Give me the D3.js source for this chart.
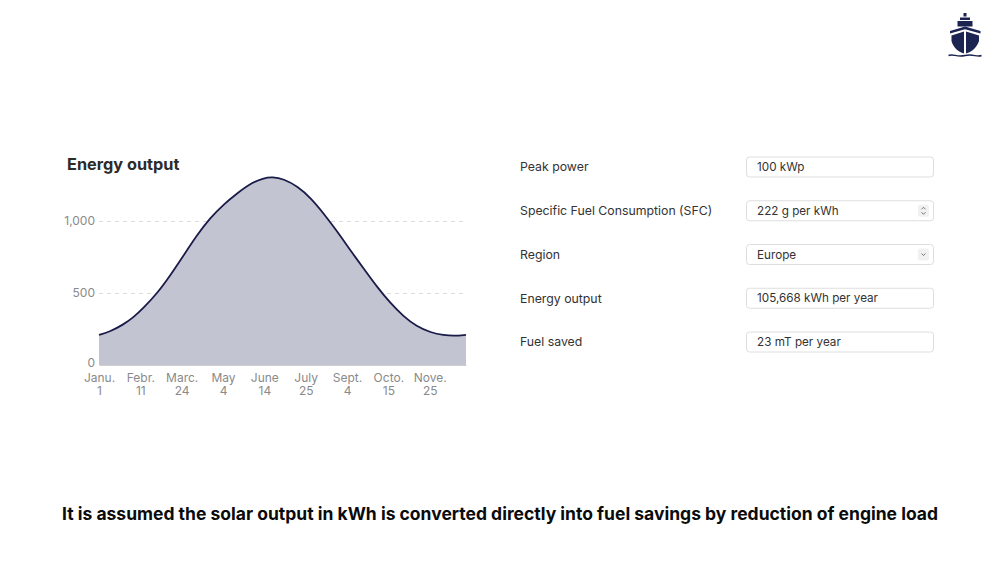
<!DOCTYPE html>
<html>
<head>
<meta charset="utf-8">
<script src="https://cdn.jsdelivr.net/npm/d3@7"></script>
<style>
  html, body { margin: 0; padding: 0; background: #fff; }
  svg { display: block; font-family: Inter, "Open Sans", sans-serif; }
</style>
</head>
<body>
<svg id="chart" width="1000" height="562"></svg>
<script>
// energy output per day (kWh)
var dates = ["2023-01-01","2023-01-12","2023-01-25","2023-02-04","2023-02-14","2023-02-28",
  "2023-03-13","2023-03-26","2023-04-08","2023-04-21","2023-05-05","2023-05-18",
  "2023-05-31","2023-06-13","2023-06-22","2023-07-03","2023-07-17","2023-07-30",
  "2023-08-12","2023-08-25","2023-09-07","2023-09-21","2023-10-04","2023-10-17",
  "2023-10-30","2023-11-12","2023-11-26","2023-12-09","2023-12-19","2023-12-31"];
var energy = [209, 232, 280, 330, 395, 500,
  625, 762, 900, 1020, 1118, 1192,
  1260, 1298, 1306, 1293, 1240, 1160,
  1050, 930, 800, 665, 540, 430,
  338, 268, 225, 207, 201, 209];

var tickDates = ["2023-01-01","2023-02-11","2023-03-24","2023-05-04","2023-06-14",
  "2023-07-25","2023-09-04","2023-10-15","2023-11-25"];
var tickMonths = ["Janu.","Febr.","Marc.","May","June","July","Sept.","Octo.","Nove."];
var tickDays = ["1","11","24","4","14","25","4","15","25"];
var yTicks = [0, 500, 1000];

var fieldLabels = ["Peak power","Specific Fuel Consumption (SFC)","Region","Energy output","Fuel saved"];
var fieldValues = ["100 kWp","222 g per kWh","Europe","105,668 kWh per year","23 mT per year"];
var fieldKinds = ["text","number","select","text","text"];

var footnote = "It is assumed the solar output in kWh is converted directly into fuel savings by reduction of engine load";

var parse = d3.timeParse("%Y-%m-%d");
var svg = d3.select("#chart");

var plot = {left: 99, right: 466, bottom: 365};

var x = d3.scaleTime()
  .domain([parse("2023-01-01"), parse("2023-12-31")])
  .range([plot.left, plot.right]);
var y = d3.scaleLinear()
  .domain([0, 1000])
  .range([plot.bottom, 221]);

var series = dates.map(function(d, i) { return {date: parse(d), value: energy[i]}; });
var curve = d3.curveBasis;

// title
svg.append("text")
  .attr("x", 67).attr("y", 170)
  .attr("font-size", 16.3).attr("font-weight", 700)
  .attr("fill", "#2b2b2b")
  .text("Energy output");

// gridlines (dashed, skip zero)
var grid = svg.append("g")
  .attr("class", "grid")
  .attr("transform", "translate(" + plot.left + ",0)")
  .call(d3.axisLeft(y).tickValues(yTicks.filter(function(v) { return v > 0; }))
    .tickSize(-(plot.right - plot.left)).tickFormat(""));
grid.select(".domain").remove();
grid.selectAll("line")
  .attr("stroke", "#dcdcdc")
  .attr("stroke-dasharray", "4,4");

// area + line
svg.append("path")
  .datum(series)
  .attr("fill", "#c3c4d2")
  .attr("d", d3.area()
    .x(function(d) { return x(d.date); })
    .y0(y(0))
    .y1(function(d) { return y(d.value); })
    .curve(curve));

svg.append("path")
  .datum(series)
  .attr("fill", "none")
  .attr("stroke", "#1a1b48")
  .attr("stroke-width", 1.8)
  .attr("d", d3.line()
    .x(function(d) { return x(d.date); })
    .y(function(d) { return y(d.value); })
    .curve(curve));

// y axis
var yAxis = svg.append("g")
  .attr("transform", "translate(95,0)")
  .call(d3.axisLeft(y).tickValues(yTicks).tickSize(0).tickPadding(0).tickFormat(d3.format(",")));
yAxis.select(".domain").remove();
yAxis.selectAll("text")
  .attr("font-family", "Inter, sans-serif")
  .attr("font-size", 12).attr("fill", "#8a8a8a");
yAxis.selectAll(".tick").filter(function(d) { return d === 0; })
  .select("text").attr("dy", "0.1em");

// x axis baseline + two line labels
var xAxis = svg.append("g")
  .attr("transform", "translate(0," + plot.bottom + ")")
  .call(d3.axisBottom(x).tickValues(tickDates.map(parse)).tickSize(0).tickPadding(0));
xAxis.select(".domain").attr("stroke", "#cfcfcf");
xAxis.selectAll("text").each(function(d, i) {
  var t = d3.select(this).text(null)
    .attr("font-family", "Inter, sans-serif")
    .attr("font-size", 12).attr("fill", "#8a8a8a")
    .attr("dy", null).attr("y", 16.5);
  t.append("tspan").attr("x", 0).text(tickMonths[i]);
  t.append("tspan").attr("x", 0).attr("dy", 13.5).text(tickDays[i]);
});

// form fields on the right
var rowY = d3.scalePoint().domain(d3.range(fieldLabels.length)).range([167, 342]);
var rows = svg.append("g").selectAll("g")
  .data(fieldLabels)
  .join("g")
  .attr("transform", function(d, i) { return "translate(0," + rowY(i) + ")"; });

rows.append("text")
  .attr("x", 520).attr("dy", "0.35em")
  .attr("font-size", 12.3).attr("fill", "#333")
  .text(function(d) { return d; });

rows.append("rect")
  .attr("x", 746.5).attr("y", -10)
  .attr("width", 187).attr("height", 20)
  .attr("rx", 3)
  .attr("fill", "#fff").attr("stroke", "#dedede");

rows.append("text")
  .attr("x", 757).attr("dy", "0.35em")
  .attr("font-size", 11.7).attr("fill", "#333")
  .text(function(d, i) { return fieldValues[i]; });

rows.filter(function(d, i) { return fieldKinds[i] !== "text"; })
  .append("rect")
  .attr("x", 918).attr("y", -6).attr("width", 11).attr("height", 12)
  .attr("rx", 2).attr("fill", "#f1f1f1");

rows.filter(function(d, i) { return fieldKinds[i] === "number"; })
  .append("path")
  .attr("d", "M921.5,-1.5 L923.5,-3.5 L925.5,-1.5 M921.5,1.5 L923.5,3.5 L925.5,1.5")
  .attr("fill", "none").attr("stroke", "#666").attr("stroke-width", 0.9);

rows.filter(function(d, i) { return fieldKinds[i] === "select"; })
  .append("path")
  .attr("d", "M921.5,-1 L923.5,1 L925.5,-1")
  .attr("fill", "none").attr("stroke", "#666").attr("stroke-width", 0.9);

// footnote
svg.append("text")
  .attr("x", 500).attr("y", 520)
  .attr("text-anchor", "middle")
  .attr("font-size", 17.5).attr("font-weight", 700)
  .attr("fill", "#0b0b0b")
  .text(footnote);

// ship logo
var ship = svg.append("g").attr("fill", "#1c2452");
ship.append("rect").attr("x", 963.5).attr("y", 13).attr("width", 3).attr("height", 3.5);
ship.append("rect").attr("x", 960).attr("y", 17.5).attr("width", 10).attr("height", 2.5);
ship.append("rect").attr("x", 957.5).attr("y", 21).attr("width", 15).attr("height", 5.5);
ship.append("path").attr("d", "M950,31 L965,26.5 L980.5,31 L980.5,33.5 L965,29.2 L950,33.5 Z");
ship.append("path").attr("d", "M951.5,35.5 L964,31.5 L964,53.5 C958,52 953,47 951.5,41 Z");
ship.append("path").attr("d", "M979,35.5 L966,31.5 L966,53.5 C972,52 977,47 979,41 Z");
ship.append("path")
  .attr("d", "M948.5,55.5 C953,53.5 957,57.5 965,55.5 C973,53.5 977,57.5 981.5,55.5")
  .attr("fill", "none").attr("stroke", "#1c2452").attr("stroke-width", 1.4);
</script>
</body>
</html>
